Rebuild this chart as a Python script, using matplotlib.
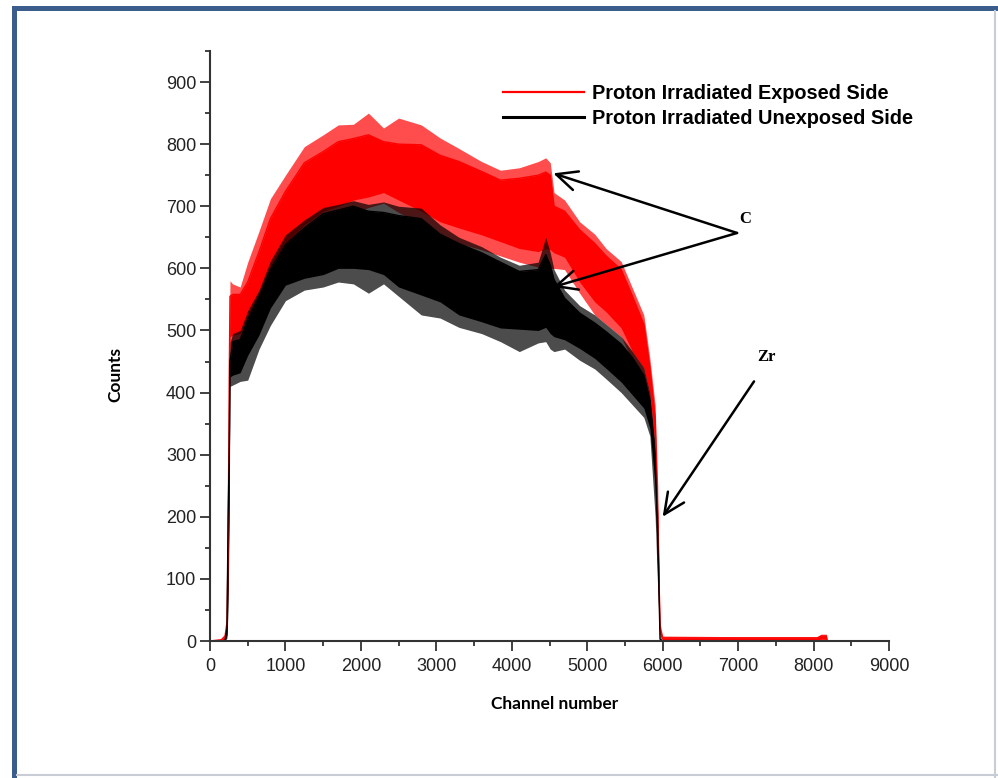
import matplotlib
matplotlib.use("Agg")
import matplotlib.pyplot as plt
from matplotlib.patches import Rectangle
from matplotlib.lines import Line2D

# channel grid shared by both spectra
channels = [0, 150, 200, 225, 240, 255, 265, 300, 400, 500, 650, 800, 1000, 1250,
            1500, 1700, 1900, 2100, 2300, 2500, 2800, 3050, 3300, 3600, 3850, 4100,
            4350, 4450, 4510, 4560, 4700, 4900, 5100, 5250, 5450, 5600, 5750, 5830,
            5900, 5935, 5965, 6000, 7000, 8050, 8100, 8170, 8180]

# exposed side: spike tips, body top, body bottom, spike dips
exp_peak = [0, 3, 12, 40, 170, 470, 580, 575, 570, 610, 660, 712, 750, 796,
            815, 831, 832, 850, 826, 842, 831, 810, 793, 772, 758, 762,
            772, 778, 770, 722, 710, 675, 655, 632, 611, 568, 525, 455,
            380, 250, 30, 8, 7, 7, 11, 11, 0]
exp_hi = [0, 2, 8, 30, 150, 420, 555, 558, 558, 578, 627, 680, 724, 770,
          788, 804, 809, 815, 804, 800, 799, 782, 772, 756, 742, 745,
          750, 755, 750, 700, 692, 662, 640, 620, 598, 555, 510, 440,
          360, 200, 20, 5, 5, 5, 8, 8, 0]
exp_lo = [0, 0, 3, 15, 100, 300, 490, 492, 495, 520, 550, 600, 640, 670,
          692, 700, 710, 715, 722, 710, 692, 675, 665, 654, 643, 632,
          627, 632, 630, 625, 618, 578, 546, 530, 504, 466, 440, 400,
          320, 150, 10, 2, 2, 2, 3, 3, 0]
exp_dip = [0, 0, 2, 10, 80, 250, 470, 480, 482, 500, 530, 580, 620, 650,
           672, 682, 690, 698, 705, 690, 672, 655, 640, 630, 620, 610,
           602, 600, 600, 600, 598, 560, 525, 510, 490, 450, 420, 380,
           300, 100, 5, 1, 1, 1, 2, 2, 0]

# unexposed side
unexp_peak = [0, 0, 2, 30, 290, 380, 480, 495, 500, 532, 565, 612, 654, 678,
              698, 703, 709, 703, 707, 700, 697, 670, 650, 635, 618, 605,
              610, 650, 625, 598, 565, 540, 525, 510, 490, 466, 440, 400,
              316, 200, 5, 0, 0, 0, 0, 0, 0]
unexp_hi = [0, 0, 1, 20, 200, 300, 450, 482, 485, 518, 555, 598, 638, 665,
            688, 694, 700, 692, 690, 685, 680, 655, 640, 625, 610, 595,
            598, 622, 605, 582, 552, 528, 512, 498, 478, 456, 428, 388,
            300, 170, 3, 0, 0, 0, 0, 0, 0]
unexp_lo = [0, 0, 0, 10, 100, 250, 425, 428, 432, 460, 493, 536, 573, 584,
            590, 600, 600, 598, 590, 570, 557, 546, 525, 514, 504, 502,
            500, 505, 495, 490, 485, 471, 455, 439, 417, 396, 375, 343,
            250, 110, 0, 0, 0, 0, 0, 0, 0]
unexp_dip = [0, 0, 0, 5, 50, 200, 410, 412, 418, 420, 470, 508, 548, 565,
             570, 578, 575, 560, 575, 555, 525, 520, 505, 495, 482, 466,
             480, 482, 470, 466, 470, 452, 438, 422, 400, 380, 360, 330,
             200, 80, 0, 0, 0, 0, 0, 0, 0]

labels = ["Proton Irradiated Exposed Side", "Proton Irradiated Unexposed Side"]

fig = plt.figure(figsize=(9.98, 7.78), dpi=100)
ax = fig.add_axes([210 / 998, 1 - 641 / 778, 679 / 998, 590 / 778])

# red spectrum first, black drawn over it
ax.fill_between(channels, exp_dip, exp_peak, color="#ff0000", alpha=0.7, lw=0)
ax.fill_between(channels, exp_lo, exp_hi, color="#ff0000", lw=0)
ax.plot(channels, exp_hi, color="#ff0000", lw=1.0)
ax.fill_between(channels, unexp_dip, unexp_peak, color="black", alpha=0.7, lw=0)
ax.fill_between(channels, unexp_lo, unexp_hi, color="black", lw=0)
ax.plot(channels[:42], unexp_hi[:42], color="black", lw=1.0)

ax.set_xlim(0, 9000)
ax.set_ylim(0, 950)
ax.set_xticks(range(0, 9001, 1000))
ax.set_xticks(range(500, 9000, 1000), minor=True)
ax.set_yticks(range(0, 901, 100))
ax.set_yticks(range(50, 951, 100), minor=True)
for side in ["top", "right"]:
    ax.spines[side].set_visible(False)
for side in ["left", "bottom"]:
    ax.spines[side].set_color("#333333")
    ax.spines[side].set_linewidth(1.5)
ax.tick_params(which="major", length=7, width=1.3, color="#333333",
               labelsize=13, labelcolor="#222222")
ax.tick_params(which="minor", length=3.5, width=1.3, color="#333333")
ax.tick_params(axis="x", pad=5)
ax.tick_params(axis="y", pad=3)
for lab in ax.get_xticklabels() + ax.get_yticklabels():
    lab.set_fontfamily("Liberation Sans")

fig.text(555 / 998, 1 - 704 / 778, "Channel number", ha="center", va="center",
         fontsize=12.5, fontweight="bold", family="Lato")
fig.text(115 / 998, 1 - 375 / 778, "Counts", ha="center", va="center",
         rotation=90, fontsize=12.5, fontweight="bold", family="Lato")

handles = [Line2D([], [], color="#ff0000", lw=1.6),
           Line2D([], [], color="black", lw=2.2)]
leg = ax.legend(handles, labels, loc="upper left",
                bbox_to_anchor=(503 / 998, 1 - 84 / 778),
                bbox_transform=fig.transFigure, frameon=False,
                borderpad=0, borderaxespad=0, handlelength=4.1,
                handletextpad=0.4, labelspacing=0.32,
                prop={"family": "Liberation Sans", "weight": "bold", "size": 14.3})

# peak markers
arrow = dict(arrowstyle="->,head_length=0.75,head_width=0.35", lw=1.8,
             color="black", shrinkA=0, shrinkB=0, mutation_scale=20)
ax.annotate("", xy=(4550, 753), xytext=(6986, 657), arrowprops=arrow)
ax.annotate("", xy=(4550, 570), xytext=(6986, 657), arrowprops=arrow)
ax.text(7092, 680, "C", ha="center", va="center", fontsize=12,
        fontweight="bold", family="Liberation Serif")
ax.annotate("", xy=(6000, 200), xytext=(7211, 418), arrowprops=arrow)
ax.text(7380, 458, "Zr", ha="center", va="center", fontsize=12,
        fontweight="bold", family="Liberation Serif")

# page frame
frame_blue = "#3b5d8c"
fig.add_artist(Rectangle((12 / 998, 0), 5 / 998, 1 - 6 / 778,
                         transform=fig.transFigure, color=frame_blue, lw=0))
fig.add_artist(Rectangle((12 / 998, 1 - 11 / 778), 1, 5 / 778,
                         transform=fig.transFigure, color=frame_blue, lw=0))
fig.add_artist(Line2D([995 / 998, 995 / 998], [0, 1 - 11 / 778],
                      transform=fig.transFigure, color="#c8ccd4", lw=1.5))
fig.add_artist(Line2D([17 / 998, 1], [3 / 778, 3 / 778],
                      transform=fig.transFigure, color="#c8ccd4", lw=1.5))

fig.savefig("out.png", dpi=100)
